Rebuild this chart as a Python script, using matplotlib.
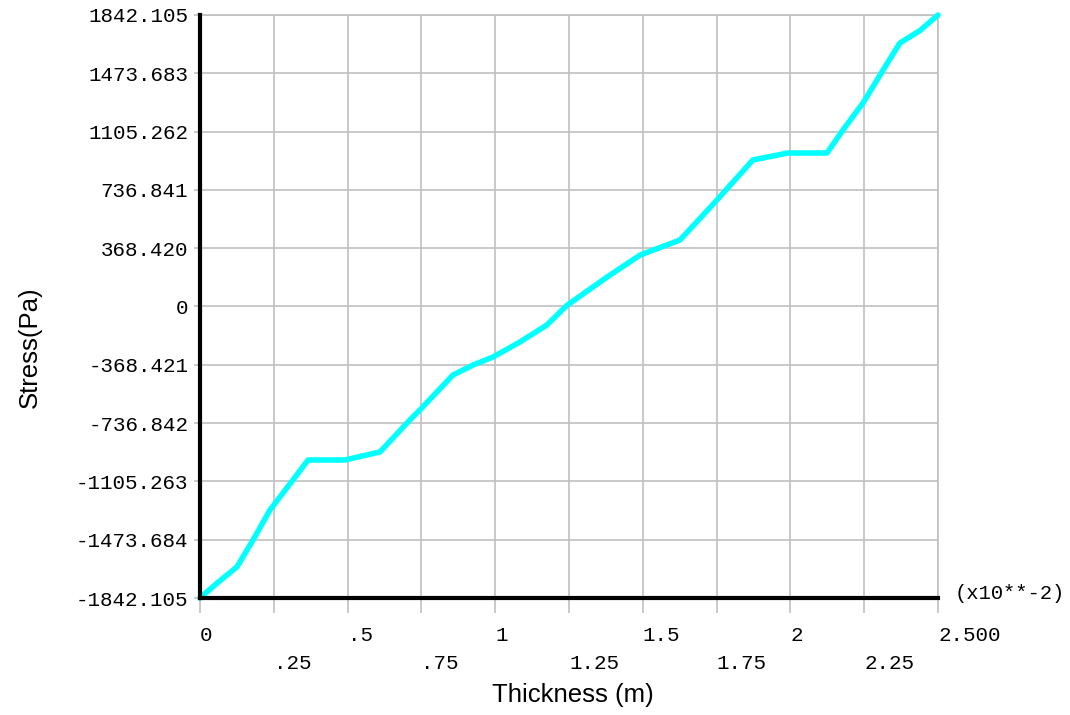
import matplotlib
matplotlib.use("Agg")
import matplotlib.pyplot as plt
import numpy as np

# Data (thickness in units of 1e-2 m)
thickness = [0.0, 0.06, 0.125, 0.18, 0.237, 0.315, 0.366, 0.491, 0.610, 0.711, 0.745, 0.857,
             0.925, 0.993, 1.084, 1.175, 1.243, 1.379, 1.491, 1.626, 1.745, 1.873,
             1.992, 2.124, 2.178, 2.246, 2.314, 2.371, 2.44, 2.50]
stress = [-1842.1, -1745, -1646, -1475, -1286, -1096, -970, -970, -919, -717, -654, -433,
          -370, -319, -224, -117, 7, 186, 325, 420, 660, 926,
          970, 970, 1115, 1286, 1494, 1665, 1745, 1842.1]

ytick_vals = list(np.linspace(-1842.105, 1842.105, 11))
ytick_labels = ["-1842.105", "-1473.684", "-1105.263", "-736.842", "-368.421", "0",
                "368.420", "736.841", "1105.262", "1473.683", "1842.105"]
xmajor_vals = [0, 0.5, 1.0, 1.5, 2.0, 2.5]
xmajor_labels = ["0", ".5", "1", "1.5", "2", "2.500"]
xminor_vals = [0.25, 0.75, 1.25, 1.75, 2.25]
xminor_labels = [".25", ".75", "1.25", "1.75", "2.25"]

W, H = 1070, 715
fig = plt.figure(figsize=(W / 100, H / 100), dpi=100)
ax = fig.add_axes([200 / W, 1 - 598 / H, (938 - 200) / W, (598 - 15) / H])

mono = "Liberation Mono"
sans = "Liberation Sans"
grid_c = "#c0c0c0"

ax.plot(thickness, stress, color="#00ffff", lw=4, solid_capstyle="round",
        solid_joinstyle="round", zorder=3, clip_on=False)

ax.set_xlim(0, 2.5)
ax.set_ylim(-1842.105, 1842.105)

ax.set_yticks(ytick_vals, ytick_labels, fontfamily=mono, fontsize=15)
ax.set_xticks(xmajor_vals, xmajor_labels, fontfamily=mono, fontsize=15, ha="left")
ax.set_xticks(xminor_vals, xminor_labels, minor=True, fontfamily=mono, fontsize=15, ha="left")

ax.tick_params(axis="y", length=4.5, width=1.2, color=grid_c, pad=4)
ax.tick_params(axis="x", which="major", length=11, width=1.2, color=grid_c, pad=9)
ax.tick_params(axis="x", which="minor", length=11, width=1.2, color=grid_c, pad=29)

ax.grid(True, which="both", color=grid_c, lw=1.2, zorder=0)
ax.set_axisbelow(True)
for s in ("top", "right"):
    ax.spines[s].set_visible(False)
for s in ("left", "bottom"):
    ax.spines[s].set_linewidth(3)
    ax.spines[s].set_color("black")
    ax.spines[s].set_zorder(4)

# grid lines on top/right borders
ax.axhline(1842.105, color=grid_c, lw=1.2, zorder=0, clip_on=False)
ax.axvline(2.5, color=grid_c, lw=1.2, zorder=0, clip_on=False)

ax.text(1.022, 0.008, "(x10**-2)", transform=ax.transAxes, fontfamily=mono, fontsize=14.8,
        ha="left", va="center")

fig.text(30 / W, 1 - 347 / H, "Stress(Pa)", rotation=90, fontfamily=sans, fontsize=18.5,
         ha="center", va="center")
fig.text(573 / W, 1 - 695 / H, "Thickness (m)", fontfamily=sans, fontsize=18.5,
         ha="center", va="center")

fig.savefig("out.png", dpi=100)
